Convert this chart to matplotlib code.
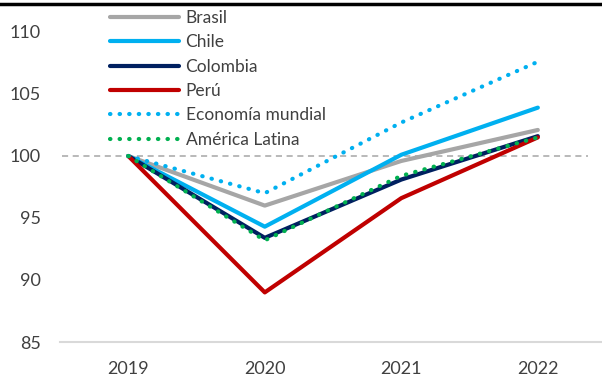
import matplotlib.pyplot as plt
from matplotlib.lines import Line2D

years = ['2019', '2020', '2021', '2022']
brasil = [100, 96.0, 99.6, 102.1]
chile = [100, 94.3, 100.1, 103.9]
colombia = [100, 93.4, 98.1, 101.6]
peru = [100, 89.0, 96.6, 101.5]
mundial = [100, 97.0, 102.7, 107.6]
latam = [100, 93.2, 98.4, 101.5]

plt.rcParams['font.family'] = ['Lato', 'DejaVu Sans']

fig = plt.figure(figsize=(6.02, 3.77), dpi=100)
ax = fig.add_axes([60 / 602, 35 / 377, 542 / 602, 342 / 377])

x = range(len(years))
lw = 3.0
ax.plot(x, brasil, color='#A6A6A6', lw=lw, label='Brasil', solid_capstyle='round')
ax.plot(x, chile, color='#00B0F0', lw=lw, label='Chile', solid_capstyle='round')
ax.plot(x, colombia, color='#002060', lw=lw, label='Colombia', solid_capstyle='round')
ax.plot(x, peru, color='#C00000', lw=lw, label='Perú', solid_capstyle='round')
ax.plot(x, mundial, color='#00B0F0', lw=lw, ls=(0, (0.1, 2.2)), dash_capstyle='round',
        label='Economía mundial')
ax.plot(x, latam, color='#00B050', lw=lw, ls=(0, (0.1, 2.2)), dash_capstyle='round',
        label='América Latina')

ax.axhline(100, xmin=0.004, xmax=0.975, color='#A6A6A6', lw=1.1, ls=(0, (4, 3)), zorder=0)

ax.set_xlim(-0.5, 3.47)
ax.set_ylim(85, 112.58)
ax.set_yticks([85, 90, 95, 100, 105, 110])
ax.set_xticks(list(x))
ax.set_xticklabels(years)
ax.tick_params(length=0, labelsize=13, colors='#404040')
ax.tick_params(axis='y', pad=14)
ax.tick_params(axis='x', pad=14)
for s in ['top', 'right', 'left']:
    ax.spines[s].set_visible(False)
ax.spines['bottom'].set_color('#D9D9D9')
ax.spines['bottom'].set_linewidth(1.5)

leg = ax.legend(loc='upper left', bbox_to_anchor=(110 / 602, 1 - 10 / 377),
                bbox_transform=fig.transFigure, frameon=False, fontsize=12.5,
                handlelength=4.0, handletextpad=0.35, labelspacing=0.48,
                borderaxespad=0, borderpad=0)
for t in leg.get_texts():
    t.set_color('#404040')

# black rule from the cut-off title above
fig.add_artist(Line2D([0, 1], [1 - 4 / 377, 1 - 4 / 377], color='black', lw=2.5,
                      transform=fig.transFigure))

fig.savefig('out.png', dpi=100)
